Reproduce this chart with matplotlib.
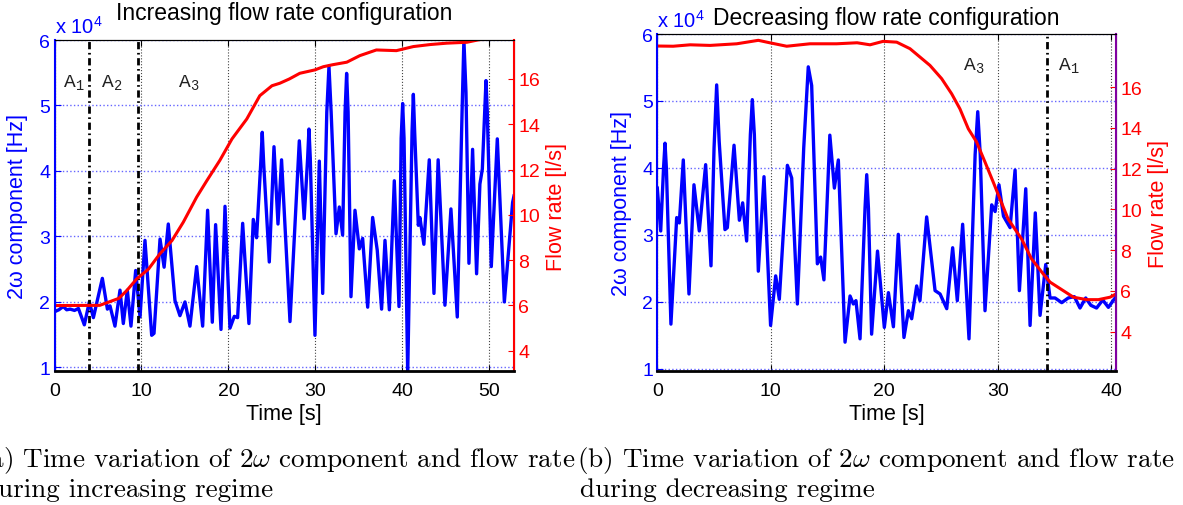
import matplotlib
matplotlib.use('Agg')
from matplotlib import pyplot as plt
from matplotlib.transforms import offset_copy

plt.rcParams['font.family'] = ['Liberation Sans', 'DejaVu Sans']
plt.rcParams['mathtext.fontset'] = 'cm'

# (a) increasing regime: time [s] and 2w component [x 1e4 Hz]
t_inc = [0.0, 0.5, 1.0, 1.4, 1.8, 2.3, 2.75, 3.43, 4.0, 4.47, 5.5, 6.08, 6.38,
         6.95, 7.53, 7.91, 8.37, 8.79, 9.33, 9.83, 10.4, 11.17, 11.44, 12.13,
         12.6, 13.08, 13.85, 14.42, 15.0, 15.57, 16.34, 17.03, 17.6, 18.14,
         18.52, 19.14, 19.6, 20.17, 20.67, 21.05, 21.63, 22.35, 22.85, 23.23,
         23.7, 23.88, 24.05, 24.69, 25.23, 25.69, 26.1, 27.07, 28.14, 28.7,
         29.1, 29.25, 29.4, 29.94, 30.44, 30.83, 31.3, 31.55, 31.8, 32.36,
         32.74, 33.12, 33.4, 33.58, 33.75, 34.08, 34.54, 35.04, 35.42, 36.0,
         36.57, 37.1, 37.6, 37.99, 38.49, 39.06, 39.6, 39.85, 40.02, 40.18,
         40.6, 41.1, 41.25, 41.4, 41.82, 42.0, 42.46, 43.08, 43.62, 44.1,
         44.88, 45.57, 46.3, 46.85, 47.06, 47.3, 47.64, 48.06, 48.52, 48.9,
         49.18, 49.45, 49.6, 49.75, 50.21, 50.9, 51.71, 52.66, 52.82]
w_inc = [1.85, 1.88, 1.93, 1.88, 1.89, 1.87, 1.9, 1.65, 2.0, 1.76, 2.36, 1.89,
         1.94, 1.63, 2.18, 1.67, 2.18, 1.63, 2.48, 1.77, 2.94, 1.49, 1.52, 2.96,
         2.53, 3.19, 2.02, 1.79, 2.0, 1.63, 2.54, 1.63, 3.4, 1.69, 3.18, 1.58,
         3.46, 1.6, 1.78, 1.76, 3.2, 1.67, 3.26, 2.98,
         4.1, 4.59, 4.1, 2.61, 4.37, 3.19, 4.17, 1.7, 4.46, 3.27,
         4.2, 4.64, 4.2, 1.49, 4.15, 2.13, 4.9, 5.6, 4.9, 3.04,
         3.45, 3.02, 4.9, 5.49, 4.9, 2.08, 3.4, 2.81, 2.97, 1.92,
         3.29, 2.79, 1.89, 2.94, 1.88, 3.85, 1.93, 4.5, 5.03, 4.5,
         0.9, 4.6, 5.17, 4.6, 3.17, 3.29, 2.88, 4.17, 2.13, 4.17,
         1.95, 3.42, 1.77, 4.9, 6.0, 5.2, 2.59, 4.33, 2.43, 3.8,
         4.03, 4.9, 5.38, 4.9, 2.54, 4.49, 2.0, 3.52, 3.62]
# (a) flow rate [l/s]
tq_inc = [0.0, 5.2, 6.2, 7.4, 8.3, 9.45, 10.8, 12.1, 13.5, 14.8, 16.34, 17.5,
          19.0, 20.4, 22.1, 23.6, 25.0, 25.9, 27.0, 28.2, 29.94, 30.9, 32.0,
          33.6, 35.1, 37.0, 39.3, 41.25, 43.2, 45.1, 47.4, 48.9, 52.82]
q_inc = [5.99, 6.0, 6.14, 6.31, 6.65, 7.17, 7.6, 8.27, 8.86, 9.67, 10.78, 11.5,
         12.4, 13.35, 14.23, 15.26, 15.7, 15.81, 16.0, 16.25, 16.4, 16.54,
         16.63, 16.74, 17.03, 17.28, 17.25, 17.43, 17.52, 17.58, 17.62, 17.74,
         17.76]

# (b) decreasing regime: time [s] and 2w component [x 1e4 Hz]
t_dec = [0.0, 0.3, 0.55, 0.68, 0.8, 1.2, 1.71, 1.94, 2.29, 2.79, 3.23, 3.7,
         4.26, 4.73, 5.0, 5.23, 5.45, 5.96, 6.17, 6.76, 7.23, 7.52, 7.87, 8.2,
         8.37, 8.55, 8.9, 9.4, 9.98, 10.43, 10.75, 11.46, 11.84, 12.34, 12.9,
         13.3, 13.6, 14.1, 14.39, 14.68, 15.2, 15.6, 15.95, 16.54, 16.98, 17.27,
         17.5, 17.86, 18.3, 18.45, 18.6, 18.88, 19.4, 20.0, 20.36, 20.8, 21.23,
         21.73, 22.12, 22.41, 22.85, 23.14, 23.73, 24.47, 24.91, 25.5, 26.02,
         26.43, 26.9, 27.46, 28.0, 28.23, 28.45, 28.87, 29.46, 29.76, 30.1,
         30.5, 31.08, 31.52, 31.9, 32.46, 32.84, 33.3, 33.72, 34.22, 34.6,
         35.04, 35.63, 36.2, 36.74, 37.24, 37.74, 38.2, 38.7, 39.24, 39.74,
         40.41]
w_dec = [3.7, 3.06, 4.0, 4.37, 4.0, 1.67, 3.26, 3.18, 4.12, 2.12, 3.75, 3.06,
         4.05, 2.54, 4.3, 5.24, 4.4, 3.08, 3.11, 4.34, 3.22, 3.48, 2.91, 4.5,
         5.02, 4.5, 2.46, 3.87, 1.65, 2.39, 2.04, 4.04, 3.85, 1.97, 4.3,
         5.51, 5.23, 2.57, 2.67, 2.33, 4.49, 3.7, 4.12, 1.4, 2.09, 1.97,
         2.02, 1.45, 3.4, 3.9, 3.4, 1.52, 2.76, 1.62, 2.14, 1.63, 3.01,
         1.47, 1.87, 1.75, 2.24, 2.02, 3.27, 2.17, 2.12, 1.9, 2.81,
         2.02, 3.16, 1.45, 4.2, 4.84, 4.2, 1.87, 3.45, 3.35, 3.75,
         3.28, 3.11, 3.97, 2.17, 3.69, 1.65, 3.33, 1.8, 2.56, 2.06,
         2.06, 1.99, 2.06, 2.08, 1.91, 2.06, 1.95, 1.91, 2.03, 1.92,
         2.08]
# (b) flow rate [l/s]
tq_dec = [0.0, 1.4, 2.9, 4.65, 7.0, 8.9, 9.9, 11.4, 13.45, 15.8, 17.6, 18.74,
          19.9, 21.09, 22.26, 23.14, 24.02, 25.05, 25.93, 26.66, 27.4, 28.13,
          28.87, 29.6, 30.19, 30.9, 32.09, 32.97, 34.0, 34.6, 35.63, 36.66,
          37.83, 38.86, 39.89, 40.41]
q_dec = [18.01, 18.0, 18.07, 18.04, 18.12, 18.29, 18.17, 18.0, 18.12, 18.12,
         18.17, 18.07, 18.24, 18.2, 17.88, 17.47, 17.06, 16.41, 15.67, 14.93,
         13.95, 13.3, 12.32, 11.33, 10.51, 9.53, 8.55, 7.57, 6.83, 6.43, 6.06,
         5.69, 5.57, 5.57, 5.69, 5.85]

# regime boundaries and labels
bounds_inc = [4.0, 9.63]
bounds_dec = [34.31]
regions_inc = [('1', 1.0), ('2', 5.3), ('3', 14.2)]
regions_dec = [('3', 26.9), ('1', 35.33)]

fig = plt.figure(figsize=(11.83, 5.06), dpi=100)


def panel(rect, t, w, tq, q, xmax, wlim, qlim, xticks, title, tpad,
          bounds, regions, ry, rcol, lpad):
    ax = fig.add_axes(rect)
    ax.plot(t, w, color='#0000ff', lw=2.4, solid_joinstyle='round')
    ax.set_xlim(0, xmax)
    ax.set_ylim(wlim)
    ax.set_xticks(xticks)
    ax.set_yticks([1, 2, 3, 4, 5, 6])
    ax.tick_params(direction='in', labelsize=14, length=4, top=True)
    ax.tick_params(axis='x', pad=8)
    ax.tick_params(axis='y', colors='#0000ff', pad=3)
    ax.yaxis.grid(True, color='#6666ff', ls=':', lw=1)
    ax.xaxis.grid(True, color='#444444', ls=':', lw=0.8)
    ax.set_xlabel('Time [s]', fontsize=15.5, labelpad=3)
    ax.set_ylabel('2ω component [Hz]', color='#0000ff', fontsize=15.5,
                  labelpad=lpad)
    ax.set_title(title, fontsize=16.5, pad=tpad)
    ax.text(0, 1, r'x 10$^{\mathregular{4}}$', color='#0000ff', fontsize=14.5,
            transform=offset_copy(ax.transAxes, fig=fig, y=5, units='points'),
            ha='left', va='baseline')
    for sub, x in regions:
        ax.text(x, ry, 'A$_{\\mathregular{%s}}$' % sub, color='#222222',
                fontsize=14, family='Liberation Mono')

    ax2 = ax.twinx()
    for x in bounds:
        ax2.axvline(x, color='k', lw=2, ls=(0, (2.6, 1.3, 0.6, 1.3)))
    ax2.plot(tq, q, color='#ff0000', lw=2.2)
    ax2.set_ylim(qlim)
    ax2.set_yticks(range(4, 17, 2))
    ax2.tick_params(direction='in', colors='#ff0000', labelsize=14, length=4,
                    pad=3)
    ax2.set_ylabel('Flow rate [l/s]', color='#ff0000', fontsize=15.5,
                   labelpad=4)
    ax2.spines['left'].set_color('#0000ff')
    ax2.spines['left'].set_linewidth(1.5)
    ax2.spines['right'].set_color(rcol)
    ax2.spines['right'].set_linewidth(1.5)
    ax2.spines['bottom'].set_linewidth(2)
    return ax


panel([0.04607, 0.26482, 0.38842, 0.65415], t_inc, w_inc, tq_inc, q_inc,
      52.82, (0.945, 6.0), (3.1, 17.72), range(0, 51, 10),
      'Increasing flow rate configuration', 15, bounds_inc, regions_inc,
      5.28, '#ff0000', 8)
panel([0.55562, 0.26482, 0.38774, 0.66601], t_dec, w_dec, tq_dec, q_dec,
      40.41, (0.97, 6.0), (2.07, 18.6), range(0, 41, 10),
      'Decreasing flow rate configuration', 7, bounds_dec, regions_dec,
      5.46, '#8000a0', 7)

cap = dict(fontsize=19.5, family='cmr10', color='k')
fig.text(-21 / 1183, 1 - 467 / 506,
         r'(a) Time variation of 2$\omega$ component and flow rate', **cap)
fig.text(-17 / 1183, 1 - 497 / 506, 'during increasing regime', **cap)
fig.text(577 / 1183, 1 - 467 / 506,
         r'(b) Time variation of 2$\omega$ component and flow rate', **cap)
fig.text(580 / 1183, 1 - 497 / 506, 'during decreasing regime', **cap)

fig.savefig('out.png', dpi=100)
